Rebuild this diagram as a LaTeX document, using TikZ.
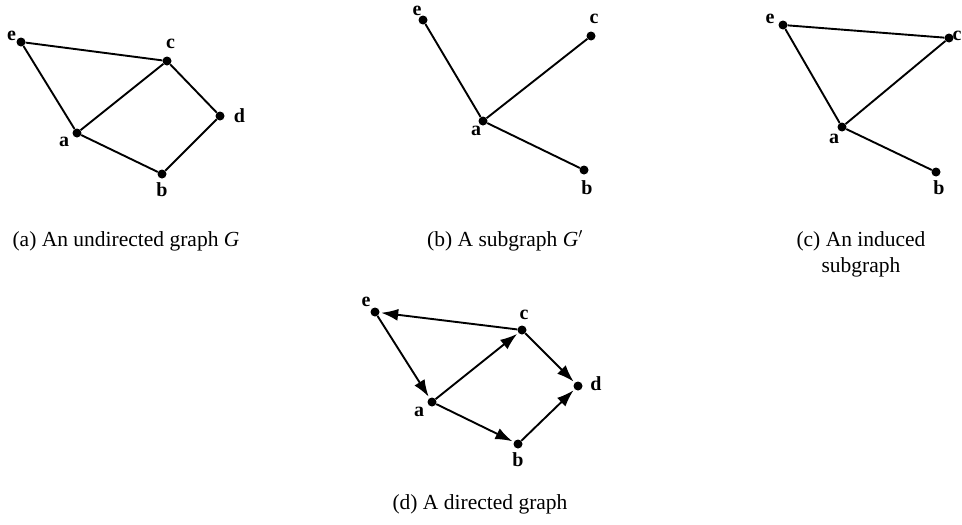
\documentclass[tikz,border=0pt]{standalone}
\usepackage{fontspec}
\setmainfont{Liberation Serif}
\usetikzlibrary{arrows.meta}
\begin{document}
\begin{tikzpicture}[x=1pt,y=-1pt,
  vtx/.style={circle,fill=black,inner sep=0pt,minimum size=9pt},
  lbl/.style={font=\bfseries\fontsize{20}{20}\selectfont,inner sep=0pt},
  edge/.style={line width=1.9pt},
  arc/.style={line width=1.9pt,-{Latex[length=17pt,width=12pt]},shorten >=1.5pt},
  captxt/.style={font=\fontsize{21.5}{26}\selectfont,inner sep=0pt,align=center}]
\useasboundingbox (0,0) rectangle (962,525);
% (a)
\node[vtx] (ae) at (21,42) {};
\node[vtx] (ac) at (167,61) {};
\node[vtx] (ad) at (220,116) {};
\node[vtx] (aa) at (77,133) {};
\node[vtx] (ab) at (162,174) {};
\node[lbl] (lae) at (11.5,36) {e};
\node[lbl] (lac) at (170.5,44) {c};
\node[lbl] (lad) at (239.5,116) {d};
\node[lbl] (laa) at (64,142) {a};
\node[lbl] (lab) at (162,190) {b};
\draw[edge] (ae) -- (ac) -- (ad) -- (ab) -- (aa) -- (ae);
\draw[edge] (aa) -- (ac);
\node[captxt] (capa) at (126,241) {(a) An undirected graph \textit{G}};
% (b)
\node[vtx] (be) at (423,20) {};
\node[vtx] (bc) at (591,36) {};
\node[vtx] (ba) at (483,121) {};
\node[vtx] (bb) at (584,170) {};
\node[lbl] (lbe) at (417,11) {e};
\node[lbl] (lbc) at (594,19) {c};
\node[lbl] (lba) at (476,131) {a};
\node[lbl] (lbb) at (587,188) {b};
\draw[edge] (be) -- (ba) -- (bc);
\draw[edge] (ba) -- (bb);
\node[captxt] (capb) at (505,241) {(b) A subgraph \textit{G}$'$};
% (c)
\node[vtx] (ce) at (783,25) {};
\node[vtx] (cc) at (949,38) {};
\node[vtx] (ca) at (842,127) {};
\node[vtx] (cb) at (936,172) {};
\node[lbl] (lce) at (770,19) {e};
\node[lbl] (lcc) at (957,36) {c};
\node[lbl] (lca) at (834,139) {a};
\node[lbl] (lcb) at (939,188) {b};
\draw[edge] (ce) -- (cc) -- (ca) -- (ce);
\draw[edge] (ca) -- (cb);
\node[captxt] (capc) at (861,254) {(c) An induced\\subgraph};
% (d)
\node[vtx] (de) at (375,312) {};
\node[vtx] (dc) at (522,330) {};
\node[vtx] (dd) at (578,386) {};
\node[vtx] (da) at (432,402) {};
\node[vtx] (db) at (518,444) {};
\node[lbl] (lde) at (366,302) {e};
\node[lbl] (ldc) at (524,315) {c};
\node[lbl] (ldd) at (596,384) {d};
\node[lbl] (lda) at (419,412) {a};
\node[lbl] (ldb) at (518,460) {b};
\draw[arc] (dc) -- (de);
\draw[arc] (de) -- (da);
\draw[arc] (da) -- (dc);
\draw[arc] (dc) -- (dd);
\draw[arc] (da) -- (db);
\draw[arc] (db) -- (dd);
\node[captxt] (capd) at (480,504) {(d) A directed graph};
\end{tikzpicture}
\end{document}
